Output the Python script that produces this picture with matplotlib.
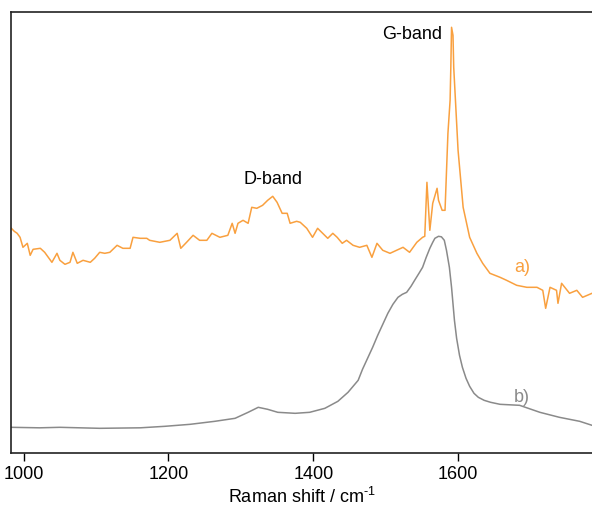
import matplotlib
matplotlib.use("Agg")
import matplotlib.pyplot as plt
import numpy as np

plt.rcParams['font.family'] = ['Liberation Sans', 'DejaVu Sans']
plt.rcParams['mathtext.fontset'] = 'custom'
plt.rcParams['mathtext.rm'] = 'Liberation Sans'

# spectrum a) - raman shift (cm-1) and intensity (a.u.)
shift_a = [983, 987, 991, 995, 999, 1005, 1009, 1013, 1023, 1029, 1039, 1046, 1050, 1057,
           1064, 1068, 1074, 1082, 1092, 1098, 1105, 1112, 1119, 1129, 1137, 1147, 1151, 1161,
           1170, 1174, 1188, 1202, 1212, 1217, 1225, 1234, 1243, 1253, 1260, 1271, 1282, 1288,
           1292, 1296, 1303, 1310, 1315, 1322, 1330, 1337, 1344, 1350, 1357, 1364, 1368, 1377,
           1382, 1391, 1399, 1406, 1413, 1420, 1427, 1433, 1440, 1446, 1455, 1464, 1474, 1481,
           1488, 1496, 1506, 1515, 1524, 1533, 1543, 1551, 1554, 1557, 1561, 1565, 1571, 1573,
           1578, 1582, 1586, 1589, 1590, 1591, 1593, 1594, 1600, 1607, 1616, 1626, 1634, 1644,
           1658, 1667, 1681, 1695, 1709, 1717, 1721, 1727, 1736, 1738, 1743, 1754, 1764, 1772,
           1785]
int_a = [225, 222, 220, 216, 206, 210, 198, 204, 205, 201, 191, 200, 193, 189,
         191, 201, 190, 193, 191, 195, 201, 200, 201, 208, 205, 205, 216, 215,
         215, 213, 211, 213, 220, 205, 211, 218, 213, 213, 220, 216, 218, 230,
         220, 230, 233, 230, 246, 245, 248, 253, 257, 251, 240, 240, 230, 232,
         231, 225, 216, 225, 220, 215, 220, 216, 210, 213, 208, 206, 208, 196,
         210, 203, 200, 203, 206, 201, 211, 216, 217, 271, 223, 250, 265, 253,
         243, 243, 320, 353, 386, 426, 418, 386, 303, 246, 216, 200, 190, 180,
         176, 173, 168, 166, 166, 163, 145, 166, 163, 150, 170, 160, 163, 156,
         160]

# spectrum b)
shift_b = [983, 1022, 1050, 1105, 1161, 1195, 1230, 1264, 1292, 1310, 1324, 1337, 1351,
           1375, 1395, 1416, 1434, 1448, 1455, 1462, 1468, 1475, 1482, 1489, 1496, 1503,
           1510, 1517, 1523, 1529, 1535, 1540, 1546, 1551, 1556, 1561, 1565, 1568, 1573,
           1577, 1581, 1584, 1588, 1591, 1595, 1598, 1602, 1606, 1611, 1616, 1622, 1628,
           1636, 1645, 1658, 1685, 1713, 1740, 1768, 1785]
int_b = [26, 25.5, 26, 25, 25.5, 27, 29, 32, 35, 41, 46, 44, 41,
         40, 41, 45, 52, 61, 67, 73, 84, 95, 106, 118, 129, 140,
         149, 156, 159, 161, 167, 173, 180, 186, 196, 205, 211, 215, 217,
         216.5, 213, 203, 186, 166, 133, 115, 98, 86, 75, 67, 60, 56,
         53, 51, 49, 48, 41, 36, 32, 28]

orange = '#F9A03F'
grey = '#8A8A8A'

fig = plt.figure(figsize=(5.92, 5.09), dpi=100)
ax = fig.add_axes([0.0186, 0.1094, 0.9814, 0.8676])

ax.plot(shift_a, int_a, color=orange, lw=1.1)
ax.plot(shift_b, int_b, color=grey, lw=1.1)

ax.text(1344, 274, 'D-band', ha='center', va='center', fontsize=13)
ax.text(1536, 419, 'G-band', ha='center', va='center', fontsize=13)
ax.text(1688, 186, 'a)', ha='center', va='center', fontsize=13, color=orange)
ax.text(1688, 56, 'b)', ha='center', va='center', fontsize=13, color=grey)

ax.set_xlim(982.5, 1785)
ax.set_ylim(0, 441.6)
ax.set_xticks([1000, 1200, 1400, 1600])
ax.set_yticks([])
ax.spines['right'].set_visible(False)
for s in ['left', 'top', 'bottom']:
    ax.spines[s].set_linewidth(1.2)
    ax.spines[s].set_color('#222222')
ax.tick_params(axis='x', length=6, width=1, pad=3, labelsize=13)
ax.set_xlabel('Raman shift / cm$^{\\text{-1}}$', fontsize=13, labelpad=3)

fig.savefig('out.png', dpi=100)
